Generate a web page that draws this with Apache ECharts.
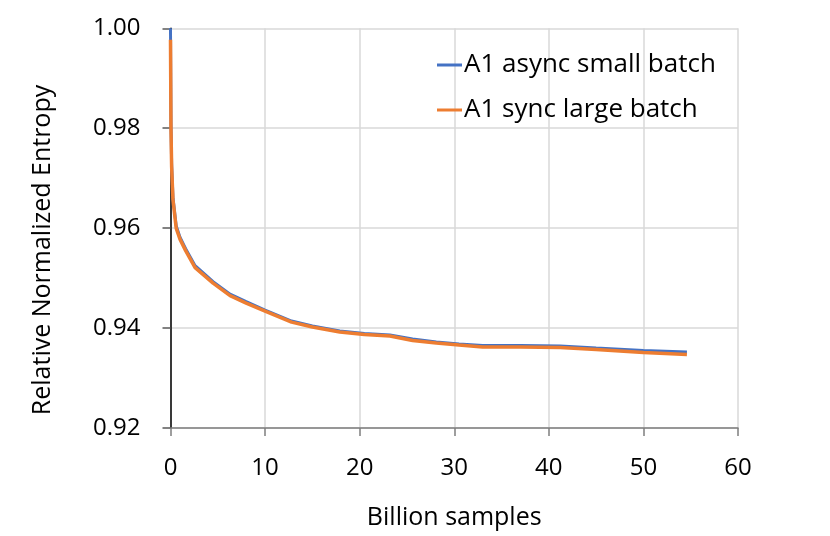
<!DOCTYPE html>
<html>
<head>
<meta charset="utf-8">
<script src="https://cdn.jsdelivr.net/npm/echarts@6/dist/echarts.min.js"></script>
<style>
  html, body { margin: 0; padding: 0; background: #fff; }
  #chart { width: 830px; height: 536px; }
</style>
</head>
<body>
<div id="chart"></div>
<script>
// billions of samples
var samples = [0, 0.05, 0.12, 0.26, 0.6, 1.0, 1.6, 2.6, 4.5, 6.3, 8, 10, 12.8, 15, 17.9,
    20.5, 23.2, 25.6, 28.1, 30.5, 33, 37, 41.2, 45, 50, 54.6];
var asyncSmall = [1.000, 0.981, 0.9728, 0.9662, 0.9605, 0.9582, 0.9559, 0.9525, 0.9493, 0.9468,
    0.9453, 0.9436, 0.9414, 0.9404, 0.9394, 0.9389, 0.9386, 0.9378, 0.9372, 0.9368,
    0.9365, 0.9365, 0.9364, 0.9360, 0.9355, 0.9352];
var syncLarge = [0.9977, 0.980, 0.9723, 0.9657, 0.960, 0.9578, 0.9555, 0.9521, 0.9490, 0.9465,
    0.9450, 0.9434, 0.9412, 0.9402, 0.9392, 0.9387, 0.9384, 0.9375, 0.9370, 0.9366,
    0.9362, 0.9362, 0.9361, 0.9357, 0.9351, 0.9347];
var seriesNames = ['A1 async small batch', 'A1 sync large batch'];

function pairs(ys) {
    return samples.map(function (x, i) { return [x, ys[i]]; });
}

var font = '"Open Sans", sans-serif';
var myChart = echarts.init(document.getElementById('chart'));

option = {
    animation: false,
    color: ['#4472C4', '#ED7D31'],
    textStyle: { fontFamily: font },
    grid: {
        left: 170.5,
        top: 28.3,
        right: 92,
        bottom: 108
    },
    legend: {
        orient: 'vertical',
        left: 437,
        top: 50,
        padding: 0,
        itemWidth: 25,
        itemHeight: 3,
        itemGap: 15,
        icon: 'rect',
        data: seriesNames,
        textStyle: {
            fontSize: 26,
            color: '#000',
            lineHeight: 30,
            padding: [0, 0, 0, -3]
        }
    },
    xAxis: {
        type: 'value',
        min: 0,
        max: 60,
        interval: 10,
        name: 'Billion samples',
        nameLocation: 'middle',
        nameGap: 77,
        nameTextStyle: { fontSize: 25, color: '#000' },
        axisLine: { lineStyle: { color: '#7f7f7f', width: 1.5 } },
        axisTick: { length: 8, lineStyle: { color: '#7f7f7f', width: 1.5 } },
        axisLabel: { fontSize: 24, color: '#000', margin: 28 },
        splitLine: { lineStyle: { color: '#d9d9d9', width: 1.5 } }
    },
    yAxis: {
        type: 'value',
        min: 0.92,
        max: 1.0,
        interval: 0.02,
        axisLine: { show: true, lineStyle: { color: '#000', width: 1.5 } },
        axisTick: { show: true, length: 8, lineStyle: { color: '#595959', width: 1.5 } },
        axisLabel: {
            fontSize: 24,
            color: '#000',
            margin: 30,
            formatter: function (v) { return v.toFixed(2); }
        },
        splitLine: { lineStyle: { color: '#d9d9d9', width: 1.5 } }
    },
    graphic: [{
        type: 'text',
        x: 43,
        y: 250,
        rotation: Math.PI / 2,
        style: {
            text: 'Relative Normalized Entropy',
            fontSize: 25,
            fontFamily: font,
            fill: '#000',
            align: 'center',
            verticalAlign: 'middle'
        }
    }],
    series: [
        {
            name: seriesNames[0],
            type: 'line',
            showSymbol: false,
            lineStyle: { width: 3 },
            data: pairs(asyncSmall)
        },
        {
            name: seriesNames[1],
            type: 'line',
            showSymbol: false,
            lineStyle: { width: 3.5 },
            data: pairs(syncLarge)
        }
    ]
};

myChart.setOption(option);
</script>
</body>
</html>
